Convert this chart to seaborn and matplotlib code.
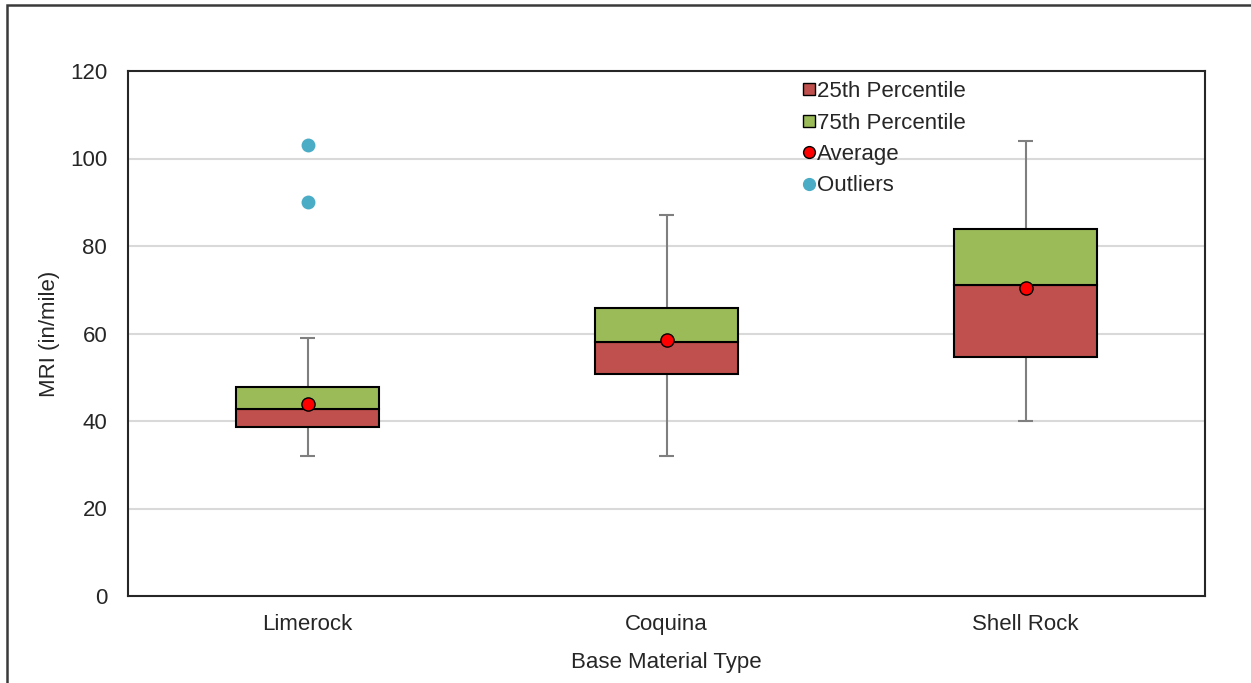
import seaborn as sns
import matplotlib.pyplot as plt
import pandas as pd
from matplotlib.patches import Rectangle
from matplotlib.lines import Line2D

sns.set_style("white")
plt.rcParams["font.family"] = ["Liberation Sans", "DejaVu Sans"]

# box statistics
materials = ["Limerock", "Coquina", "Shell Rock"]
whisker_low = [32, 32, 40]
q1 = [38.7, 50.7, 54.6]
median = [42.7, 58.0, 71.2]
q3 = [47.8, 65.9, 83.9]
whisker_high = [59, 87, 104]
average = [44.0, 58.5, 70.3]
outlier_material = ["Limerock", "Limerock"]
outlier_value = [103, 90]

box = pd.DataFrame({
    "Material": materials,
    "low": whisker_low, "q1": q1, "med": median, "q3": q3, "high": whisker_high,
    "mean": average,
})
box["lower_h"] = box["med"] - box["q1"]
box["upper_h"] = box["q3"] - box["med"]

red = "#C0504D"
green = "#9BBB59"
blue = "#4BACC6"
grid_c = "#D9D9D9"
fs = 16

fig = plt.figure(figsize=(12.51, 6.83), dpi=100)
ax = fig.add_axes([128 / 1251, 1 - 596 / 683, (1205 - 128) / 1251, (596 - 71) / 683])

# gridlines
for yv in [20, 40, 60, 80, 100]:
    ax.axhline(yv, color=grid_c, lw=1.5, zorder=0)

# whiskers
pos = list(range(len(materials)))
ax.vlines(pos, box["low"], box["q1"], color="#7F7F7F", lw=1.5, zorder=1)
ax.vlines(pos, box["q3"], box["high"], color="#7F7F7F", lw=1.5, zorder=1)
cap = 0.02
ax.hlines(box["low"], [p - cap for p in pos], [p + cap for p in pos], color="#7F7F7F", lw=1.5, zorder=1)
ax.hlines(box["high"], [p - cap for p in pos], [p + cap for p in pos], color="#7F7F7F", lw=1.5, zorder=1)

# boxes as stacked bars
sns.barplot(data=box, x="Material", y="lower_h", bottom=box["q1"], color=red,
            edgecolor="black", linewidth=1.5, width=0.4, errorbar=None,
            saturation=1, ax=ax, zorder=2)
sns.barplot(data=box, x="Material", y="upper_h", bottom=box["med"], color=green,
            edgecolor="black", linewidth=1.5, width=0.4, errorbar=None,
            saturation=1, ax=ax, zorder=2)

# averages and outliers
sns.stripplot(x=materials, y=average, order=materials, jitter=False, color="#FF0000",
              edgecolor="black", linewidth=1, size=9.5, ax=ax, zorder=4)
sns.stripplot(x=outlier_material, y=outlier_value, order=materials, jitter=False,
              color=blue, size=10, ax=ax, zorder=4)

ax.set_xlim(-0.5, 2.5)
ax.set_ylim(0, 120)
ax.set_yticks([0, 20, 40, 60, 80, 100, 120])
ax.tick_params(axis="y", length=0, pad=15, labelsize=fs)
ax.tick_params(axis="x", length=0, pad=13, labelsize=fs)
ax.set_xlabel("Base Material Type", fontsize=fs, labelpad=12)
ax.set_ylabel("MRI (in/mile)", fontsize=fs, labelpad=7)
for s in ax.spines.values():
    s.set_color("#262626")
    s.set_linewidth(1.5)
    s.set_visible(True)

handles = [
    Line2D([], [], ls="", marker="s", markersize=8.5, markerfacecolor=red, markeredgecolor="black"),
    Line2D([], [], ls="", marker="s", markersize=8.5, markerfacecolor=green, markeredgecolor="black"),
    Line2D([], [], ls="", marker="o", markersize=8.5, markerfacecolor="#FF0000", markeredgecolor="black"),
    Line2D([], [], ls="", marker="o", markersize=8.5, markerfacecolor=blue, markeredgecolor=blue),
]
labels = ["25th Percentile", "75th Percentile", "Average", "Outliers"]
ax.legend(handles, labels, loc="upper left", bbox_to_anchor=(791 / 1251, 1 - 70 / 683),
          bbox_transform=fig.transFigure, frameon=False, fontsize=fs,
          handlelength=0.6, handletextpad=0.05, labelspacing=0.47, borderpad=0)

# outer chart frame
fig.patches.append(Rectangle((7 / 1251, -0.1), 1.2, 1.1 - 5 / 683, transform=fig.transFigure,
                             fill=False, edgecolor="#3a3a3a", lw=1.8))

fig.savefig("out.png", dpi=100)
